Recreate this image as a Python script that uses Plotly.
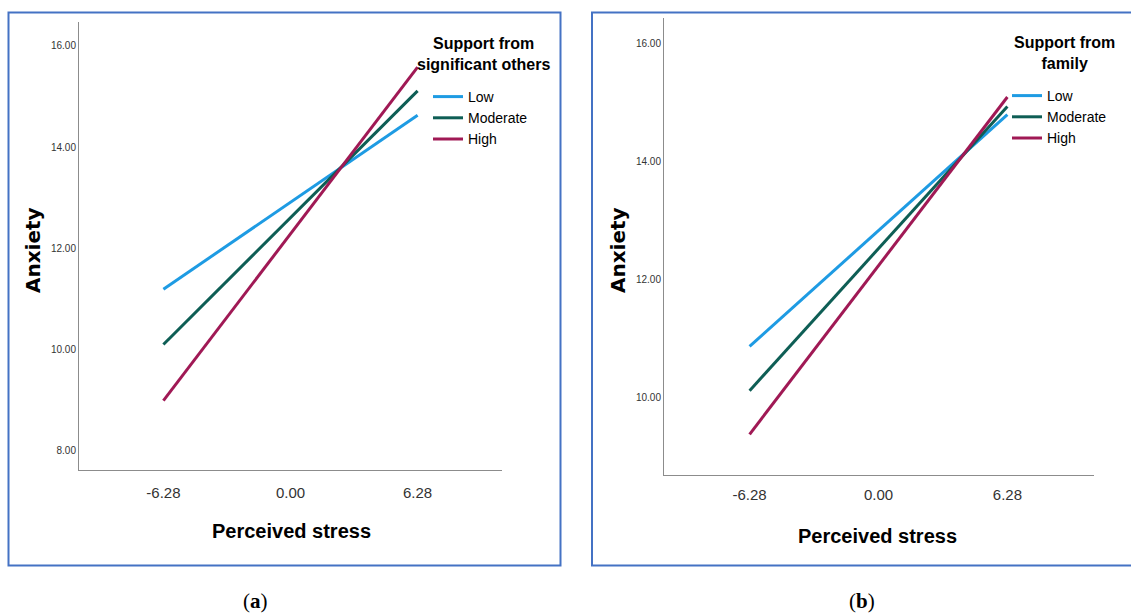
import plotly.graph_objects as go

# ---- data ----
stress_levels = [-6.28, 6.28]
stress_ticks = ["-6.28", "0.00", "6.28"]
stress_tickvals = [-6.28, 0.0, 6.28]
support_levels = ["Low", "Moderate", "High"]

# panel (a): support from significant others
others_low = [11.19, 14.63]
others_moderate = [10.10, 15.11]
others_high = [8.99, 15.58]

# panel (b): support from family
family_low = [10.87, 14.80]
family_moderate = [10.12, 14.94]
family_high = [9.38, 15.10]

anx_ticks_a = [8, 10, 12, 14, 16]
anx_ticks_b = [10, 12, 14, 16]

colors = {"Low": "#1E9BE3", "Moderate": "#0E5E55", "High": "#A01955"}

W, H = 1131, 614
SANS = "Liberation Sans, Arial, sans-serif"

def px(x):
    return x / W

def py(y):
    return 1 - y / H

fig = go.Figure()

series_a = {"Low": others_low, "Moderate": others_moderate, "High": others_high}
series_b = {"Low": family_low, "Moderate": family_moderate, "High": family_high}

for lvl in support_levels:
    fig.add_trace(go.Scatter(x=stress_levels, y=series_a[lvl], mode="lines", name=lvl,
                             line=dict(color=colors[lvl], width=3),
                             xaxis="x", yaxis="y", legend="legend", legendgroup="a" + lvl))
for lvl in support_levels:
    fig.add_trace(go.Scatter(x=stress_levels, y=series_b[lvl], mode="lines", name=lvl,
                             line=dict(color=colors[lvl], width=3),
                             xaxis="x2", yaxis="y2", legend="legend2", legendgroup="b" + lvl))

axis_common = dict(showgrid=False, zeroline=False, showline=True, linecolor="#8c8c8c",
                   linewidth=1, ticks="", mirror=False, fixedrange=True)

fig.update_layout(
    width=W, height=H, autosize=False,
    margin=dict(l=0, r=0, t=0, b=0),
    paper_bgcolor="white", plot_bgcolor="white",
    xaxis=dict(domain=[px(79), px(502)], range=[-10.45, 10.45], anchor="y",
               tickvals=stress_tickvals, ticktext=stress_ticks, ticklabelstandoff=9,
               tickfont=dict(family=SANS, size=15, color="#333333"), **axis_common),
    yaxis=dict(domain=[py(470), py(22)], range=[7.62, 16.47], anchor="x",
               tickvals=anx_ticks_a, ticktext=[f"{v:.2f}" for v in anx_ticks_a],
               tickfont=dict(family=SANS, size=10, color="#333333"), **axis_common),
    xaxis2=dict(domain=[px(664), px(1094)], range=[-10.45, 10.5], anchor="y2",
                tickvals=stress_tickvals, ticktext=stress_ticks, ticklabelstandoff=6,
                tickfont=dict(family=SANS, size=15, color="#333333"), **axis_common),
    yaxis2=dict(domain=[py(475), py(18)], range=[8.69, 16.44], anchor="x2",
                tickvals=anx_ticks_b, ticktext=[f"{v:.2f}" for v in anx_ticks_b],
                tickfont=dict(family=SANS, size=10, color="#333333"), **axis_common),
    legend=dict(x=px(428), y=py(81), xanchor="left", yanchor="top", bgcolor="rgba(0,0,0,0)",
                font=dict(family=SANS, size=14, color="black"), tracegroupgap=0,
                itemclick=False, itemdoubleclick=False),
    legend2=dict(x=px(1007), y=py(80), xanchor="left", yanchor="top", bgcolor="rgba(0,0,0,0)",
                 font=dict(family=SANS, size=14, color="black"), tracegroupgap=0,
                 itemclick=False, itemdoubleclick=False),
    showlegend=True,
)

ann = []
# axis titles
for xc, yc in [(33, 250), (618, 250)]:
    ann.append(dict(x=px(xc), y=py(yc), xref="paper", yref="paper", text="<b>Anxiety</b>",
                    textangle=-90, showarrow=False, xanchor="center", yanchor="middle",
                    font=dict(family="DejaVu Sans, sans-serif", size=20, color="black")))
for xc, yc in [(291, 531), (878, 536)]:
    ann.append(dict(x=px(xc), y=py(yc), xref="paper", yref="paper", text="<b>Perceived stress</b>",
                    showarrow=False, xanchor="center", yanchor="middle",
                    font=dict(family=SANS, size=20, color="black")))
# legend titles
for xc, yc, txt in [(484, 54, "<b>Support from<br>significant others</b>"),
                    (1064, 53, "<b>Support from<br>family</b>")]:
    ann.append(dict(x=px(xc), y=py(yc), xref="paper", yref="paper", text=txt,
                    showarrow=False, xanchor="center", yanchor="middle", align="center",
                    font=dict(family=SANS, size=16, color="black")))
# captions
for xc, txt in [(255, "(<b>a</b>)"), (862, "(<b>b</b>)")]:
    ann.append(dict(x=px(xc), y=py(601), xref="paper", yref="paper", text=txt,
                    showarrow=False, xanchor="center", yanchor="middle",
                    font=dict(family="Liberation Serif, serif", size=21, color="black")))
fig.update_layout(annotations=ann)

# panel frames
fig.add_shape(type="rect", xref="paper", yref="paper", x0=px(8.5), x1=px(560.5),
              y0=py(565.5), y1=py(12.5), line=dict(color="#4472C4", width=2), layer="below")
fig.add_shape(type="rect", xref="paper", yref="paper", x0=px(592), x1=px(1140),
              y0=py(565.5), y1=py(12.5), line=dict(color="#4472C4", width=2), layer="below")

fig.write_html("out.html", config={"displayModeBar": False},
               post_script="document.body.style.margin='0';")
